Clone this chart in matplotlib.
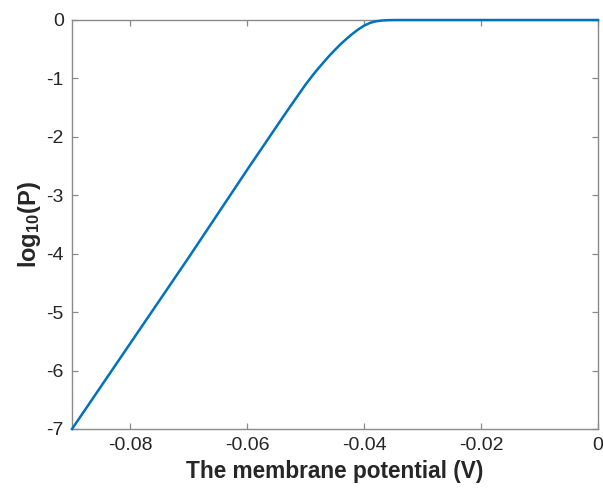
import matplotlib
matplotlib.use("Agg")
import matplotlib.pyplot as plt

# Values
voltage = [-0.090, -0.080, -0.070, -0.060, -0.058, -0.056, -0.054, -0.052,
           -0.050, -0.049, -0.048, -0.047, -0.046, -0.045, -0.044, -0.043,
           -0.042, -0.041, -0.040, -0.039, -0.038, -0.037, -0.036, -0.035,
           -0.034, -0.030, -0.020, -0.010, 0.000]
log10_p = [-7.00, -5.53, -4.06, -2.56, -2.265, -1.97, -1.675, -1.385,
           -1.10, -0.97, -0.845, -0.73, -0.615, -0.51, -0.41, -0.32,
           -0.235, -0.16, -0.095, -0.05, -0.022, -0.009, -0.003, -0.001,
           0.0, 0.0, 0.0, 0.0, 0.0]

x_ticks = [-0.08, -0.06, -0.04, -0.02, 0]
x_tick_labels = ["-0.08", "-0.06", "-0.04", "-0.02", "0"]
y_ticks = [-7, -6, -5, -4, -3, -2, -1, 0]
y_tick_labels = ["-7", "-6", "-5", "-4", "-3", "-2", "-1", "0"]

plt.rcParams['font.family'] = ['Liberation Sans', 'DejaVu Sans']
plt.rcParams['mathtext.fontset'] = 'custom'
plt.rcParams['mathtext.rm'] = 'Liberation Sans:bold'
plt.rcParams['mathtext.default'] = 'rm'

fig = plt.figure(figsize=(6.03, 4.91), dpi=100)
ax = fig.add_axes([72/603, 1-429/491, (598-72)/603, (429-20)/491])

ax.plot(voltage, log10_p, color='#0072BD', linewidth=1.8, clip_on=False, zorder=3)

ax.set_xlim(-0.09, 0)
ax.set_ylim(-7, 0)
ax.set_xticks(x_ticks)
ax.set_xticklabels(x_tick_labels)
ax.set_yticks(y_ticks)
ax.set_yticklabels(y_tick_labels)

spine_color = '#8a8a8a'
for s in ax.spines.values():
    s.set_color(spine_color)
    s.set_linewidth(1.0)

ax.tick_params(direction='in', length=4, width=0.9, color=spine_color,
               top=True, right=True, labelsize=14, labelcolor='#262626', pad=6)

ax.set_xlabel("The membrane potential (V)", fontsize=16.3, fontweight='bold',
              color='#262626', labelpad=4)
ax.set_ylabel(r"$\mathrm{log_{10}(P)}$", fontsize=17, color='#262626', labelpad=2)

fig.savefig("out.png", dpi=100)
